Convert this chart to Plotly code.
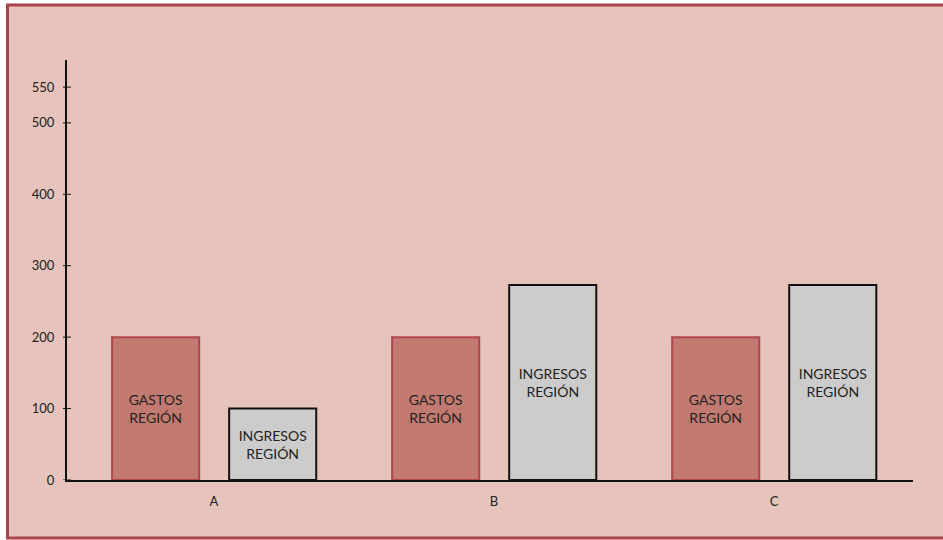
import plotly.graph_objects as go

categories = ["A", "B", "C"]
gastos = [200, 200, 200]
ingresos = [100, 273, 273]
gastos_label = "GASTOS<br>REGIÓN"
ingresos_label = "INGRESOS<br>REGIÓN"
y_tickvals = [0, 100, 200, 300, 400, 500, 550]
y_ticktext = ["0", "100", "200", "300", "400", "500", "550"]

W, H = 943, 540
L, R, T, B = 67, 30, 60, 60
pw, ph = W - L - R, H - T - B

def px(x):
    return (x - L) / pw

def py(y):
    return (H - B - y) / ph

BG = "#E6C4BB"
BORDER = "#A8434D"
FONT = "Lato"

fig = go.Figure()
fig.add_trace(go.Bar(
    x=categories, y=gastos, name="Gastos",
    text=[gastos_label] * len(categories),
    textposition="inside", insidetextanchor="middle",
    textfont=dict(family=FONT, size=14, color="#222222"),
    marker=dict(color="#C27970", line=dict(color="#B0454F", width=2)),
    width=0.311, offset=-0.364,
))
fig.add_trace(go.Bar(
    x=categories, y=ingresos, name="Ingresos",
    text=[ingresos_label] * len(categories),
    textposition="inside", insidetextanchor="middle",
    textfont=dict(family=FONT, size=14, color="#222222"),
    marker=dict(color="#CCCCCC", line=dict(color="#111111", width=2)),
    width=0.311, offset=0.054,
))

# background panel and its border (left, top, bottom edges only)
fig.add_shape(type="rect", xref="paper", yref="paper",
              x0=px(7.5), x1=px(943), y0=py(538), y1=py(5),
              line=dict(width=0), fillcolor=BG, layer="below")
for (x0, y0, x1, y1) in [(7.5, 5, 7.5, 538), (6, 5, 943, 5), (6, 538, 943, 538)]:
    fig.add_shape(type="line", xref="paper", yref="paper",
                  x0=px(x0), x1=px(x1), y0=py(y0), y1=py(y1),
                  line=dict(color=BORDER, width=3), layer="below")

# crossing tick marks on the y axis
for v in y_tickvals:
    fig.add_shape(type="line", xref="paper", yref="y",
                  x0=px(63), x1=px(71), y0=v, y1=v,
                  line=dict(color="#111111", width=1))

fig.update_layout(
    width=W, height=H,
    margin=dict(l=L, r=R, t=T, b=B),
    paper_bgcolor="white", plot_bgcolor="rgba(0,0,0,0)",
    showlegend=False,
    barmode="overlay",
    font=dict(family=FONT, size=13, color="#222222"),
    xaxis=dict(
        type="category", range=[-0.525, 2.496],
        showline=True, linecolor="#111111", linewidth=2,
        showgrid=False, zeroline=False, ticks="",
        tickfont=dict(family=FONT, size=13, color="#222222"),
        ticklabelstandoff=8,
    ),
    yaxis=dict(
        range=[0, 588], tickvals=y_tickvals, ticktext=y_ticktext,
        showline=True, linecolor="#111111", linewidth=2,
        showgrid=False, zeroline=False,
        ticks="",
        tickfont=dict(family=FONT, size=13, color="#222222"),
        ticklabelstandoff=8,
    ),
)

fig.write_html("out.html")
